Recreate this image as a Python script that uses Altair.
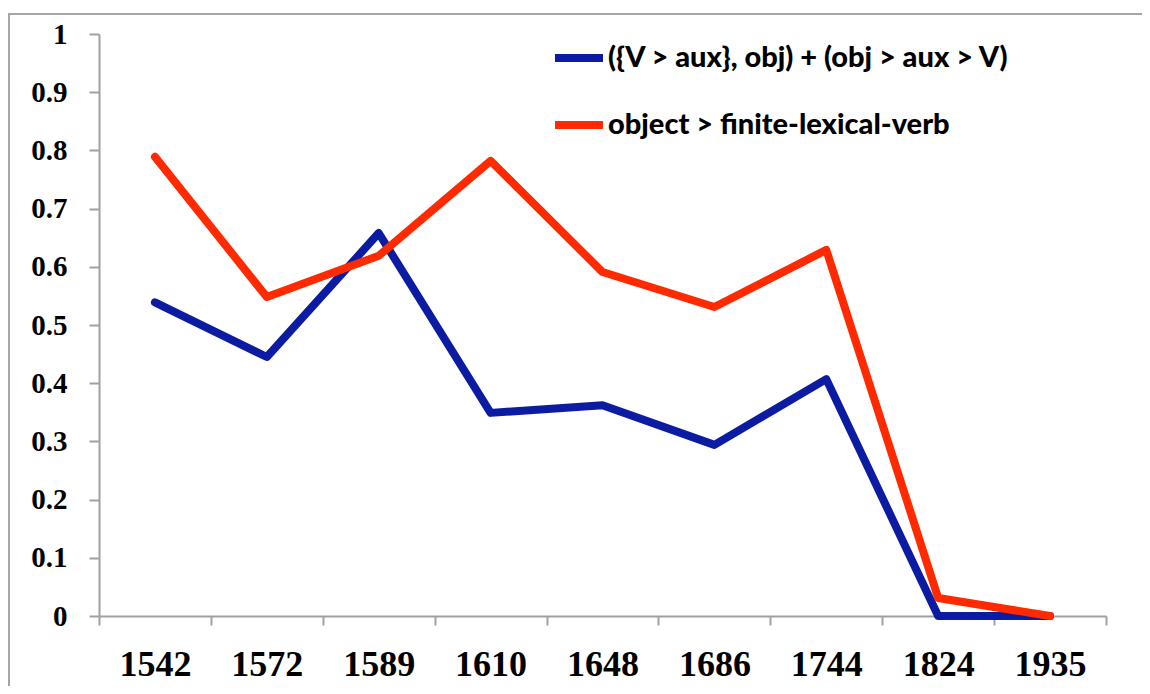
import altair as alt
import pandas as pd

years = ["1542", "1572", "1589", "1610", "1648", "1686", "1744", "1824", "1935"]
series_names = ["({V > aux}, obj) + (obj > aux > V)", "object > finite-lexical-verb"]
blue_vals = [0.539, 0.445, 0.658, 0.349, 0.362, 0.294, 0.407, 0.0, 0.0]
red_vals = [0.789, 0.548, 0.619, 0.782, 0.591, 0.531, 0.629, 0.031, 0.0]
colors = ["#0C1CA2", "#FF2A00"]
y_ticks = [0, 0.1, 0.2, 0.3, 0.4, 0.5, 0.6, 0.7, 0.8, 0.9, 1.0]

rows = []
for name, vals in zip(series_names, [blue_vals, red_vals]):
    for yr, v in zip(years, vals):
        rows.append({"year": yr, "value": v, "series": name})
df = pd.DataFrame(rows)

W, H = 1007, 582

lines = alt.Chart(df).mark_line(strokeWidth=8, strokeCap="round", strokeJoin="round").encode(
    x=alt.X("year:N", sort=years, bandPosition=0.5,
            scale=alt.Scale(type="band", paddingInner=0, paddingOuter=0),
            axis=alt.Axis(title=None, tickBand="extent", labelAngle=0,
                          labelFont="Liberation Serif", labelFontWeight="bold",
                          labelFontSize=36, labelColor="black", labelPadding=22,
                          tickSize=9, tickColor="#a0a0a0", tickWidth=2,
                          domainColor="#a0a0a0", domainWidth=2, grid=False)),
    y=alt.Y("value:Q", scale=alt.Scale(domain=[0, 1], nice=False),
            axis=alt.Axis(title=None, values=y_ticks, format=".1~f",
                          labelFont="Liberation Serif", labelFontWeight="bold",
                          labelFontSize=29, labelColor="black", labelPadding=22,
                          tickSize=10, tickColor="#a0a0a0", tickWidth=2,
                          domainColor="#a0a0a0", domainWidth=2, grid=False)),
    color=alt.Color("series:N", sort=series_names,
                    scale=alt.Scale(domain=series_names, range=colors),
                    legend=alt.Legend(title=None, orient="none", legendX=452, legendY=-4,
                                      symbolType="stroke", symbolSize=2304,
                                      symbolStrokeWidth=8, rowPadding=23,
                                      labelOffset=1, labelLimit=800,
                                      labelFont="Lato",
                                      labelFontWeight=900, labelFontSize=29,
                                      labelColor="black", padding=0)),
)

frame_src = pd.DataFrame({"k": [0]})
top_bar = alt.Chart(frame_src).mark_rect(fill="#a6a6a6", strokeWidth=0, clip=False).encode(
    x=alt.value(-91), x2=alt.value(1043), y=alt.value(-21), y2=alt.value(-19)
)
left_bar = alt.Chart(frame_src).mark_rect(fill="#a6a6a6", strokeWidth=0, clip=False).encode(
    x=alt.value(-91), x2=alt.value(-89), y=alt.value(-21), y2=alt.value(652)
)

chart = alt.layer(top_bar, left_bar, lines).properties(
    width=W, height=H,
    autosize=alt.AutoSizeParams(type="none"),
    padding={"left": 91, "top": 26, "right": 36, "bottom": 70},
    background="white",
).configure_view(stroke=None)

chart.save("out.html", embed_options={"renderer": "svg", "actions": False})
